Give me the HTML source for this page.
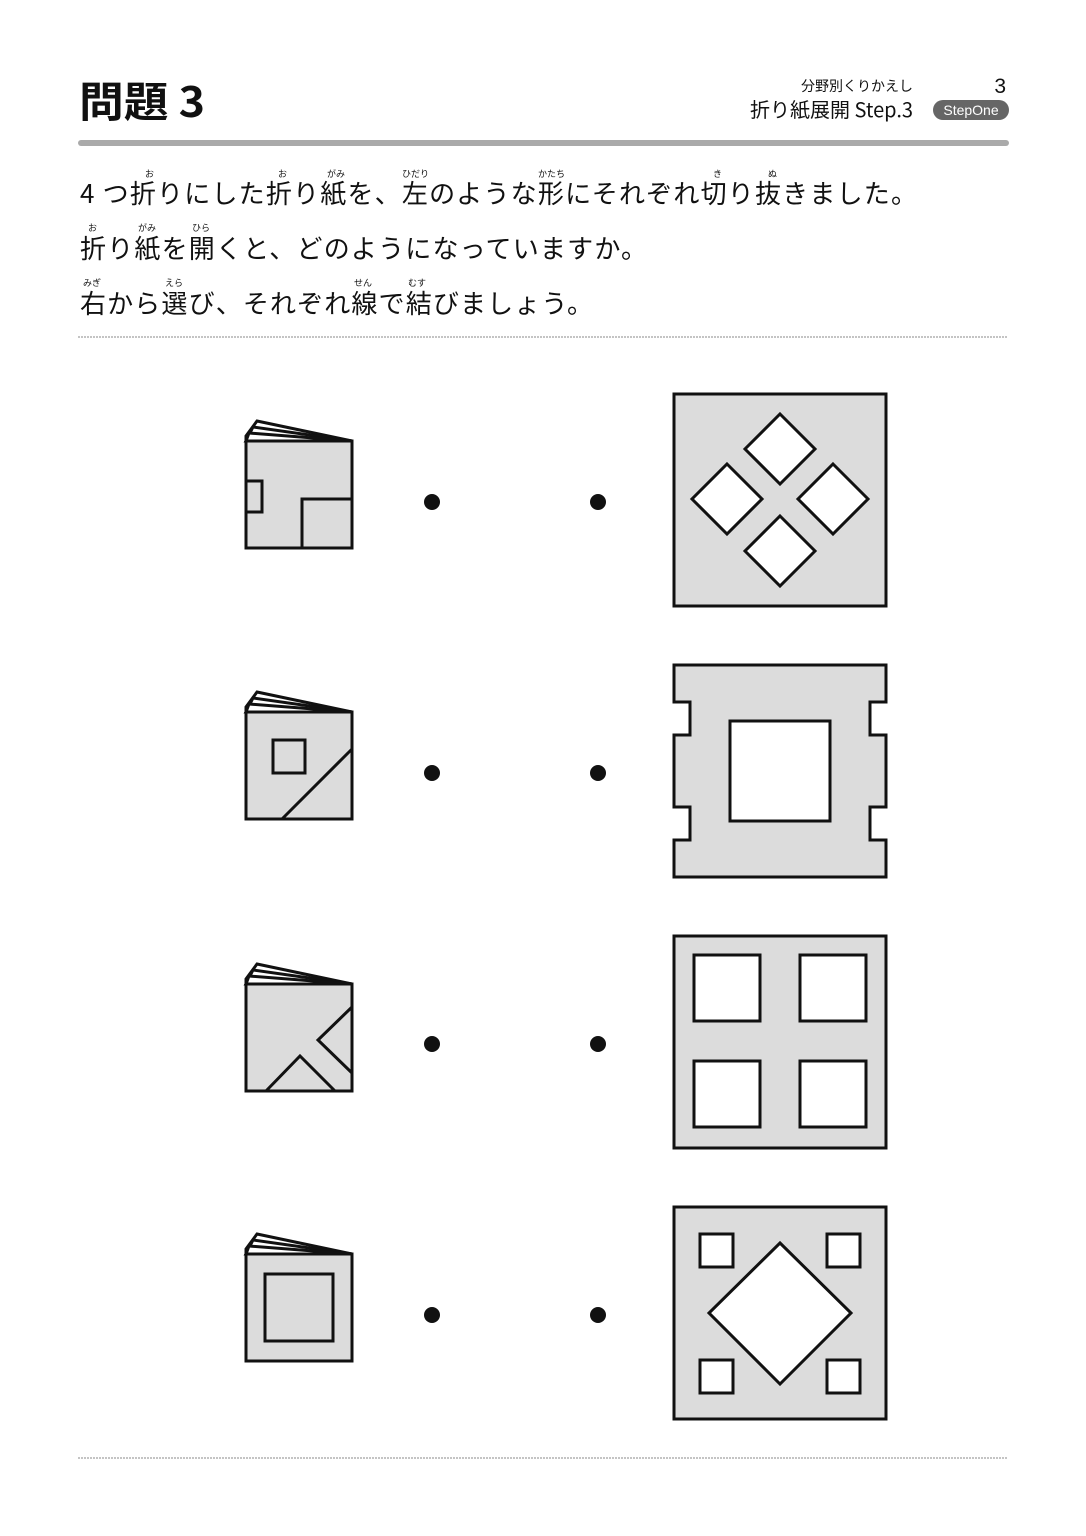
<!DOCTYPE html>
<html><head><meta charset="utf-8"><style>
html,body{margin:0;padding:0;background:#fff}
svg{display:block}
text{font-family:"Liberation Sans","Noto Sans CJK JP",sans-serif;fill:#111}
.j{font-family:"Noto Sans CJK JP",sans-serif}
.f{font-size:9px;font-family:"Noto Sans CJK JP",sans-serif}
.s{fill:#dcdcdc;stroke:#111;stroke-width:3;stroke-linejoin:miter}
.w{fill:#fff;stroke:#111;stroke-width:3}
.l{fill:none;stroke:#111;stroke-width:3}
</style></head><body>
<svg width="1086" height="1536" viewBox="0 0 1086 1536">
<defs>
<g id="pages">
<polygon points="257,-20 352,0 246,0 246,-5" fill="#fff" stroke="#111" stroke-width="3"/>
<polygon points="253,-14 352,0 246,0" fill="#fff" stroke="#111" stroke-width="3"/>
<polygon points="249,-8 352,0 246,0" fill="#fff" stroke="#111" stroke-width="3"/>
</g>
</defs>
<text x="79" y="117" font-size="42" font-weight="bold" class="j" textLength="126" lengthAdjust="spacingAndGlyphs">問題 3</text>
<text x="913" y="91" font-size="14" text-anchor="end" class="j">分野別くりかえし</text>
<text x="913" y="117" font-size="20" text-anchor="end" class="j">折り紙展開 Step.3</text>
<text x="1006" y="93" font-size="21" text-anchor="end">3</text>
<rect x="933" y="100" width="76" height="20" rx="10" fill="#666"/>
<text x="971" y="115" font-size="14" text-anchor="middle" style="fill:#fff">StepOne</text>
<rect x="78" y="140" width="931" height="6" rx="3" fill="#aaa"/>

<g class="f">
<text x="145" y="177" class="f">お</text>
<text x="278" y="177" class="f">お</text>
<text x="327" y="177" class="f">がみ</text>
<text x="402" y="177" class="f">ひだり</text>
<text x="538" y="177" class="f">かたち</text>
<text x="713" y="177" class="f">き</text>
<text x="768" y="177" class="f">ぬ</text>
<text x="88" y="231" class="f">お</text>
<text x="138" y="231" class="f">がみ</text>
<text x="192" y="231" class="f">ひら</text>
<text x="83" y="286" class="f">みぎ</text>
<text x="165" y="286" class="f">えら</text>
<text x="354" y="286" class="f">せん</text>
<text x="408" y="286" class="f">むす</text>
</g>
<text x="80" y="203" font-size="26" class="j" textLength="837" lengthAdjust="spacing">4 つ折りにした折り紙を、左のような形にそれぞれ切り抜きました。</text>
<text x="80" y="258" font-size="26" class="j" textLength="567" lengthAdjust="spacing">折り紙を開くと、どのようになっていますか。</text>
<text x="80" y="313" font-size="26" class="j" textLength="513" lengthAdjust="spacing">右から選び、それぞれ線で結びましょう。</text>
<line x1="78" y1="337" x2="1008" y2="337" stroke="#888" stroke-width="1" stroke-dasharray="2,1"/>
<line x1="78" y1="1458" x2="1008" y2="1458" stroke="#888" stroke-width="1" stroke-dasharray="2,1"/>

<use href="#pages" transform="translate(0,441)"/>
<rect x="246" y="441" width="106" height="107" class="s"/>
<rect x="246" y="481" width="16" height="31" class="l"/>
<polyline points="302,548 302,499 352,499" class="l"/>
<use href="#pages" transform="translate(0,712)"/>
<rect x="246" y="712" width="106" height="107" class="s"/>
<rect x="273" y="740" width="32" height="33" class="l"/>
<line x1="282" y1="819" x2="352" y2="749" class="l"/>
<use href="#pages" transform="translate(0,984)"/>
<rect x="246" y="984" width="106" height="107" class="s"/>
<polyline points="352,1007 318,1040 352,1073" class="l"/>
<polyline points="266,1091 300,1056 335,1091" class="l"/>
<use href="#pages" transform="translate(0,1254)"/>
<rect x="246" y="1254" width="106" height="107" class="s"/>
<rect x="265" y="1274" width="68" height="67" class="l"/>

<g fill="#111">
<circle cx="432" cy="502" r="8"/><circle cx="598" cy="502" r="8"/>
<circle cx="432" cy="773" r="8"/><circle cx="598" cy="773" r="8"/>
<circle cx="432" cy="1044" r="8"/><circle cx="598" cy="1044" r="8"/>
<circle cx="432" cy="1315" r="8"/><circle cx="598" cy="1315" r="8"/>
</g>

<rect x="674" y="394" width="212" height="212" class="s"/>
<polygon points="780,414 815,449 780,484 745,449" class="w"/>
<polygon points="727,464 762,499 727,534 692,499" class="w"/>
<polygon points="833,464 868,499 833,534 798,499" class="w"/>
<polygon points="780,516 815,551 780,586 745,551" class="w"/>
<polygon points="674,665 886,665 886,702 870,702 870,735 886,735 886,807 870,807 870,840 886,840 886,877 674,877 674,840 690,840 690,807 674,807 674,735 690,735 690,702 674,702" class="s"/>
<rect x="730" y="721" width="100" height="100" class="w"/>
<rect x="674" y="936" width="212" height="212" class="s"/>
<rect x="694" y="955" width="66" height="66" class="w"/>
<rect x="800" y="955" width="66" height="66" class="w"/>
<rect x="694" y="1061" width="66" height="66" class="w"/>
<rect x="800" y="1061" width="66" height="66" class="w"/>
<rect x="674" y="1207" width="212" height="212" class="s"/>
<rect x="700" y="1234" width="33" height="33" class="w"/>
<rect x="827" y="1234" width="33" height="33" class="w"/>
<rect x="700" y="1360" width="33" height="33" class="w"/>
<rect x="827" y="1360" width="33" height="33" class="w"/>
<polygon points="780,1243 851,1313 780,1384 709,1313" class="w"/>
</svg>
</body></html>
